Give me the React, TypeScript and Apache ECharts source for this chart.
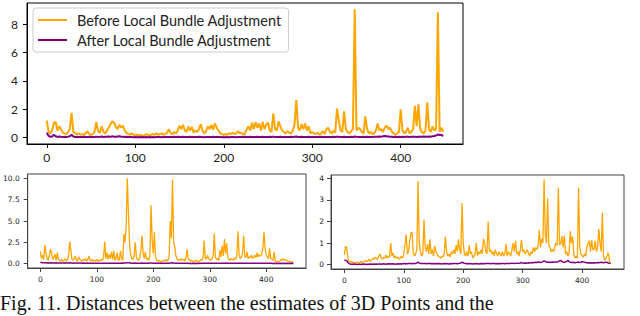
import React, { useEffect, useRef } from "react";
import * as echarts from "echarts";

// x sampling step (frame index)
const X_STEP = 2;

const seriesNames = ["Before Local Bundle Adjustment", "After Local Bundle Adjustment"];
const xTicks = [0, 100, 200, 300, 400];
const topYTicks = [0, 2, 4, 6, 8];
const blYTicks = [0, 2.5, 5, 7.5, 10];
const brYTicks = [0, 1, 2, 3, 4];

const topBefore = [
  1.2, 0.4, 0.3, 0.5, 1.05, 1.1, 0.5, 0.8, 0.6, 0.35,
  0.3, 0.25, 0.4, 0.6, 1.75, 0.4, 0.3, 0.25, 0.3, 0.2,
  0.25, 0.2, 0.3, 0.45, 0.25, 0.2, 0.25, 0.4, 1.1, 0.45,
  0.35, 0.8, 0.4, 0.3, 0.5, 0.7, 0.95, 1.15, 1.05, 0.75,
  0.6, 0.9, 0.7, 0.85, 0.5, 0.35, 0.25, 0.2, 0.3, 0.2,
  0.15, 0.2, 0.15, 0.2, 0.12, 0.15, 0.25, 0.2, 0.15, 0.2,
  0.25, 0.2, 0.3, 0.2, 0.25, 0.3, 0.2, 0.25, 0.35, 0.6,
  0.3, 0.25, 0.4, 0.3, 0.5, 0.85, 0.6, 0.9, 0.5, 0.4,
  0.8, 0.5, 0.75, 0.35, 0.5, 0.4, 0.6, 0.95, 0.5, 0.3,
  0.45, 0.8, 0.6, 0.9, 0.55, 1.0, 0.7, 0.5, 0.3, 0.25,
  0.2, 0.25, 0.2, 0.3, 0.25, 0.35, 0.25, 0.3, 0.45, 0.3,
  0.35, 0.2, 0.3, 0.6, 0.8, 0.5, 1.05, 0.6, 1.1, 0.7,
  1.0, 0.5, 1.1, 0.6, 0.9, 1.05, 0.5, 0.4, 1.7, 0.6,
  0.5, 1.15, 0.8, 0.5, 0.4, 0.3, 0.45, 0.35, 0.3, 0.5,
  0.9, 2.65, 0.7, 0.5, 0.95, 0.6, 1.0, 0.5, 0.8, 0.3,
  0.4, 0.3, 0.25, 0.35, 0.2, 0.3, 0.45, 0.25, 0.6, 0.7,
  0.4, 0.3, 0.5, 0.35, 2.05, 1.2, 0.5, 0.4, 1.85, 0.6,
  0.4, 0.3, 0.45, 0.6, 9.05, 0.5, 0.7, 0.6, 0.4, 0.3,
  1.5, 0.6, 0.3, 0.4, 0.25, 0.3, 0.5, 1.0, 0.5, 0.6,
  0.4, 0.7, 0.85, 0.6, 0.7, 0.4, 0.3, 0.2, 0.3, 0.4,
  2.0, 0.5, 0.3, 0.4, 0.7, 0.3, 0.4, 0.6, 2.25, 0.8,
  2.35, 0.6, 0.4, 0.3, 0.5, 2.5, 0.6, 0.4, 0.8, 0.5,
  0.6, 8.85, 0.4, 0.7, 0.4,
];

const topAfter = [
  0.35, 0.12, 0.06, 0.08, 0.2, 0.1, 0.05, 0.08, 0.06, 0.05,
  0.06, 0.05, 0.07, 0.1, 0.2, 0.08, 0.05, 0.06, 0.05, 0.04,
  0.05, 0.06, 0.04, 0.05, 0.06, 0.05, 0.04, 0.05, 0.07, 0.05,
  0.06, 0.08, 0.05, 0.06, 0.07, 0.08, 0.06, 0.09, 0.07, 0.06,
  0.08, 0.1, 0.07, 0.06, 0.05, 0.06, 0.04, 0.05, 0.04, 0.03,
  0.04, 0.03, 0.04, 0.03, 0.04, 0.03, 0.04, 0.03, 0.04, 0.03,
  0.04, 0.03, 0.04, 0.05, 0.04, 0.03, 0.04, 0.05, 0.04, 0.05,
  0.04, 0.05, 0.06, 0.05, 0.06, 0.05, 0.04, 0.06, 0.05, 0.04,
  0.05, 0.06, 0.05, 0.04, 0.05, 0.04, 0.06, 0.05, 0.04, 0.03,
  0.04, 0.05, 0.04, 0.05, 0.06, 0.05, 0.04, 0.05, 0.04, 0.03,
  0.04, 0.03, 0.04, 0.03, 0.04, 0.05, 0.04, 0.03, 0.04, 0.05,
  0.04, 0.05, 0.06, 0.05, 0.04, 0.06, 0.05, 0.04, 0.05, 0.06,
  0.05, 0.04, 0.06, 0.05, 0.04, 0.05, 0.06, 0.05, 0.07, 0.05,
  0.04, 0.05, 0.06, 0.05, 0.04, 0.05, 0.04, 0.05, 0.06, 0.05,
  0.06, 0.08, 0.05, 0.04, 0.06, 0.05, 0.04, 0.05, 0.06, 0.04,
  0.05, 0.04, 0.05, 0.04, 0.05, 0.06, 0.04, 0.05, 0.04, 0.05,
  0.04, 0.05, 0.06, 0.05, 0.07, 0.06, 0.05, 0.04, 0.06, 0.05,
  0.04, 0.05, 0.06, 0.05, 0.08, 0.06, 0.05, 0.04, 0.05, 0.06,
  0.05, 0.06, 0.05, 0.04, 0.05, 0.06, 0.07, 0.06, 0.08, 0.07,
  0.1, 0.12, 0.09, 0.08, 0.07, 0.06, 0.05, 0.06, 0.05, 0.06,
  0.05, 0.06, 0.05, 0.07, 0.06, 0.05, 0.06, 0.07, 0.06, 0.05,
  0.06, 0.07, 0.06, 0.08, 0.07, 0.06, 0.08, 0.07, 0.1, 0.12,
  0.15, 0.22, 0.18, 0.2, 0.1,
];

const blBefore = [
  1.45, 0.6, 1.0, 0.5, 2.2, 1.2, 0.6, 0.4, 1.0, 1.7,
  1.2, 0.5, 0.8, 1.1, 0.4, 1.3, 0.5, 0.4, 0.3, 0.5,
  0.3, 0.4, 0.6, 0.3, 0.5, 0.9, 2.6, 1.6, 0.5, 0.4,
  0.6, 0.9, 0.4, 0.3, 0.8, 0.5, 0.4, 0.3, 0.5, 0.4,
  0.6, 0.3, 0.5, 0.9, 0.4, 0.3, 0.5, 0.3, 0.4, 0.3,
  0.5, 0.3, 0.4, 0.3, 0.5, 0.4, 0.8, 2.6, 0.6, 1.3,
  0.5, 1.1, 0.6, 1.4, 0.5, 1.5, 0.4, 0.6, 1.3, 0.4,
  0.5, 1.5, 0.6, 0.4, 3.5, 2.5, 4.5, 10.0, 5.9, 2.3,
  1.0, 0.6, 0.5, 0.9, 2.5, 0.8, 0.5, 0.4, 0.7, 1.5,
  3.3, 1.2, 0.6, 1.4, 0.5, 0.6, 0.4, 1.0, 6.85, 2.7,
  1.2, 3.7, 0.8, 0.4, 0.3, 0.4, 0.3, 0.2, 0.3, 0.4,
  0.3, 0.5, 0.3, 0.4, 0.8, 5.0, 3.0, 9.85, 2.5, 2.0,
  0.9, 0.6, 0.4, 0.5, 0.4, 0.6, 0.4, 0.5, 0.3, 0.8,
  1.7, 0.5, 0.4, 0.3, 0.4, 0.3, 0.2, 0.3, 0.4, 0.3,
  0.2, 0.3, 0.5, 0.4, 0.6, 2.7, 0.7, 0.5, 1.0, 0.6,
  0.5, 0.4, 0.6, 0.8, 3.5, 0.8, 0.5, 0.6, 0.4, 1.6,
  0.8, 2.1, 0.9, 2.9, 1.2, 2.4, 0.7, 0.5, 0.4, 0.6,
  0.5, 0.4, 0.7, 0.5, 1.0, 3.8, 1.0, 0.6, 0.8, 1.2,
  3.3, 0.9, 0.7, 1.4, 0.6, 0.8, 0.7, 1.0, 0.6, 0.8,
  1.0, 0.7, 1.3, 0.8, 1.0, 0.9, 1.2, 1.8, 3.7, 1.8,
  1.0, 0.8, 0.6, 1.8, 0.6, 0.5, 0.4, 1.4, 0.3, 0.2,
  0.3, 0.2, 0.3, 0.5, 0.4, 0.6, 0.4, 0.5, 0.4, 0.3,
  0.2, 0.3, 0.2, 0.2, 0.1,
];

const blAfter = [
  0.18, 0.14, 0.12, 0.1, 0.11, 0.1, 0.09, 0.1, 0.09, 0.1,
  0.09, 0.1, 0.08, 0.09, 0.1, 0.09, 0.08, 0.09, 0.08, 0.09,
  0.08, 0.09, 0.1, 0.09, 0.08, 0.09, 0.1, 0.09, 0.08, 0.07,
  0.08, 0.09, 0.08, 0.07, 0.08, 0.09, 0.08, 0.07, 0.08, 0.07,
  0.06, 0.07, 0.08, 0.07, 0.06, 0.07, 0.06, 0.07, 0.06, 0.05,
  0.06, 0.05, 0.06, 0.07, 0.06, 0.05, 0.06, 0.07, 0.06, 0.07,
  0.06, 0.07, 0.06, 0.05, 0.06, 0.07, 0.06, 0.07, 0.06, 0.05,
  0.06, 0.07, 0.08, 0.07, 0.08, 0.09, 0.1, 0.12, 0.1, 0.09,
  0.08, 0.07, 0.06, 0.07, 0.08, 0.07, 0.06, 0.07, 0.06, 0.07,
  0.08, 0.07, 0.06, 0.07, 0.06, 0.07, 0.06, 0.08, 0.1, 0.08,
  0.07, 0.06, 0.07, 0.06, 0.05, 0.06, 0.05, 0.06, 0.05, 0.06,
  0.05, 0.06, 0.05, 0.06, 0.07, 0.08, 0.09, 0.11, 0.09, 0.07,
  0.06, 0.05, 0.06, 0.05, 0.06, 0.05, 0.06, 0.05, 0.06, 0.05,
  0.06, 0.05, 0.04, 0.05, 0.04, 0.05, 0.04, 0.05, 0.04, 0.05,
  0.04, 0.05, 0.06, 0.05, 0.06, 0.07, 0.06, 0.05, 0.06, 0.05,
  0.06, 0.05, 0.06, 0.07, 0.06, 0.07, 0.06, 0.05, 0.06, 0.05,
  0.06, 0.07, 0.06, 0.07, 0.08, 0.07, 0.06, 0.05, 0.06, 0.05,
  0.06, 0.05, 0.06, 0.05, 0.06, 0.07, 0.06, 0.05, 0.06, 0.07,
  0.06, 0.05, 0.06, 0.05, 0.06, 0.05, 0.06, 0.05, 0.06, 0.05,
  0.06, 0.05, 0.06, 0.07, 0.06, 0.05, 0.06, 0.07, 0.06, 0.07,
  0.06, 0.05, 0.06, 0.05, 0.06, 0.05, 0.04, 0.05, 0.04, 0.05,
  0.04, 0.05, 0.04, 0.05, 0.04, 0.05, 0.04, 0.05, 0.04, 0.05,
  0.04, 0.05, 0.04, 0.05, 0.04,
];

const brBefore = [
  0.45, 0.85, 0.8, 0.3, 0.15, 0.1, 0.15, 0.1, 0.12, 0.08,
  0.1, 0.12, 0.08, 0.1, 0.15, 0.1, 0.12, 0.15, 0.2, 0.15,
  0.18, 0.25, 0.15, 0.2, 0.3, 0.25, 0.35, 0.3, 0.25, 0.4,
  0.5, 0.3, 0.25, 0.35, 0.3, 0.45, 0.3, 0.4, 0.35, 1.0,
  0.4, 0.55, 0.3, 0.4, 0.3, 0.35, 0.25, 0.3, 0.4, 0.3,
  0.5, 0.9, 1.4, 0.5, 0.6, 1.1, 1.45, 1.5, 0.5, 0.4,
  0.5, 0.7, 3.87, 1.0, 0.6, 0.4, 0.5, 2.08, 0.8, 0.6,
  0.95, 0.5, 1.17, 0.5, 0.7, 0.4, 0.87, 0.6, 0.5, 0.4,
  0.35, 0.3, 0.4, 0.35, 0.5, 1.3, 0.6, 0.4, 0.5, 0.35,
  0.6, 0.5, 0.7, 0.5, 0.9, 0.6, 1.17, 0.7, 0.5, 2.85,
  1.0, 0.5, 0.4, 0.6, 0.4, 0.9, 0.5, 0.6, 0.3, 0.4,
  0.5, 1.0, 0.4, 0.6, 0.5, 0.7, 0.5, 1.2, 1.0, 0.6,
  0.5, 2.0, 0.6, 0.7, 0.5, 0.6, 0.4, 0.7, 0.5, 0.4,
  0.6, 0.5, 0.4, 0.6, 0.4, 0.5, 0.95, 0.4, 0.6, 0.5,
  0.4, 0.7, 1.0, 0.6, 1.1, 0.5, 0.6, 0.4, 0.7, 1.15,
  0.6, 0.7, 0.5, 0.6, 0.7, 0.5, 0.4, 0.6, 0.5, 0.8,
  0.6, 0.8, 0.7, 0.9, 1.6, 0.8, 1.2, 1.0, 3.95, 1.4,
  1.0, 3.07, 0.9, 0.8, 0.6, 0.7, 0.6, 0.8, 1.0, 0.9,
  3.56, 0.9, 1.0, 1.32, 0.8, 1.35, 0.5, 0.6, 0.4, 0.5,
  1.55, 1.0, 1.3, 0.5, 0.3, 0.4, 0.3, 3.56, 0.8, 0.5,
  0.4, 0.35, 0.5, 0.4, 0.8, 1.0, 1.1, 0.6, 1.15, 0.7,
  0.7, 1.1, 0.6, 0.8, 1.65, 1.0, 0.6, 2.4, 0.4, 0.2,
  0.3, 0.4, 0.55, 0.15, 0.1,
];

const brAfter = [
  0.22, 0.2, 0.18, 0.1, 0.05, 0.03, 0.02, 0.02, 0.03, 0.02,
  0.02, 0.01, 0.02, 0.02, 0.01, 0.02, 0.03, 0.02, 0.02, 0.01,
  0.02, 0.02, 0.03, 0.02, 0.02, 0.03, 0.02, 0.03, 0.02, 0.03,
  0.03, 0.02, 0.03, 0.04, 0.03, 0.02, 0.03, 0.04, 0.03, 0.04,
  0.03, 0.04, 0.03, 0.02, 0.03, 0.04, 0.03, 0.04, 0.03, 0.04,
  0.05, 0.04, 0.05, 0.04, 0.05, 0.06, 0.05, 0.04, 0.05, 0.06,
  0.05, 0.08, 0.12, 0.07, 0.05, 0.06, 0.05, 0.06, 0.05, 0.04,
  0.05, 0.06, 0.05, 0.04, 0.05, 0.04, 0.05, 0.04, 0.05, 0.04,
  0.05, 0.04, 0.03, 0.04, 0.05, 0.04, 0.05, 0.04, 0.03, 0.04,
  0.05, 0.04, 0.05, 0.06, 0.05, 0.04, 0.05, 0.06, 0.08, 0.12,
  0.09, 0.06, 0.05, 0.04, 0.05, 0.04, 0.05, 0.04, 0.03, 0.04,
  0.04, 0.05, 0.04, 0.03, 0.04, 0.05, 0.04, 0.05, 0.04, 0.05,
  0.05, 0.06, 0.05, 0.04, 0.05, 0.06, 0.05, 0.04, 0.05, 0.04,
  0.05, 0.04, 0.05, 0.06, 0.05, 0.04, 0.05, 0.06, 0.05, 0.06,
  0.06, 0.07, 0.06, 0.05, 0.06, 0.07, 0.06, 0.07, 0.08, 0.1,
  0.08, 0.07, 0.08, 0.07, 0.08, 0.09, 0.08, 0.09, 0.1, 0.09,
  0.1, 0.11, 0.1, 0.12, 0.11, 0.1, 0.12, 0.14, 0.18, 0.15,
  0.12, 0.11, 0.12, 0.1, 0.11, 0.12, 0.11, 0.12, 0.13, 0.12,
  0.14, 0.18, 0.2, 0.14, 0.12, 0.11, 0.13, 0.15, 0.2, 0.14,
  0.12, 0.1, 0.11, 0.1, 0.09, 0.1, 0.11, 0.12, 0.1, 0.11,
  0.15, 0.13, 0.11, 0.1, 0.09, 0.08, 0.09, 0.08, 0.09, 0.08,
  0.09, 0.08, 0.09, 0.1, 0.09, 0.1, 0.11, 0.1, 0.09, 0.1,
  0.12, 0.1, 0.08, 0.06, 0.05,
];

const captionText = "Fig. 11. Distances between the estimates of 3D Points and the";

const ORANGE = "#FFA500";
const PURPLE = "#800080";

const toPairs = (vals: number[]) => vals.map((v, i) => [i * X_STEP, v]);

function xAxisCfg(gridIndex: number, frame: string, font: any, margin: number) {
  return {
    type: "value",
    gridIndex,
    min: -22.4,
    max: 470.4,
    axisLine: { show: true, onZero: false, lineStyle: { color: frame, width: 1 } },
    axisTick: { show: true, inside: false, length: 4, customValues: xTicks, lineStyle: { color: frame } },
    axisLabel: { customValues: xTicks, margin, ...font },
    splitLine: { show: false },
  };
}

function yAxisCfg(gridIndex: number, min: number, max: number, ticks: number[], frame: string, font: any, margin: number, fmt?: (v: number) => string) {
  return {
    type: "value",
    gridIndex,
    min,
    max,
    axisLine: { show: true, onZero: false, lineStyle: { color: frame, width: 1 } },
    axisTick: { show: true, inside: false, length: 4, customValues: ticks, lineStyle: { color: frame } },
    axisLabel: { customValues: ticks, margin, formatter: fmt, ...font },
    splitLine: { show: false },
  };
}

export default function App() {
  const ref = useRef<HTMLDivElement>(null);
  useEffect(() => {
    if (!ref.current) return;
    const chart = echarts.init(ref.current, undefined, { renderer: "svg" });
    const topFont = { fontFamily: "Lato", fontSize: 12, color: "#222" };
    const smallFont = { fontFamily: "DejaVu Sans", fontSize: 7.5, color: "#222" };
    const option: any = {
      animation: false,
      backgroundColor: "#fff",
      grid: [
        { left: 27, top: 3, width: 436, height: 141, show: true, borderColor: "#000", borderWidth: 1, containLabel: false },
        { left: 27, top: 174, width: 279, height: 94, show: true, borderColor: "#444", borderWidth: 1, containLabel: false },
        { left: 331, top: 175, width: 293, height: 94, show: true, borderColor: "#444", borderWidth: 1, containLabel: false },
      ],
      xAxis: [
        xAxisCfg(0, "#000", topFont, 7),
        xAxisCfg(1, "#444", smallFont, 7),
        xAxisCfg(2, "#444", smallFont, 7),
      ],
      yAxis: [
        yAxisCfg(0, -0.45, 9.5, topYTicks, "#000", topFont, 9),
        yAxisCfg(1, -0.5, 10.5, blYTicks, "#444", smallFont, 8, (v: number) => v.toFixed(1)),
        yAxisCfg(2, -0.2, 4.15, brYTicks, "#444", smallFont, 7),
      ],
      legend: {
        data: seriesNames,
        orient: "vertical",
        left: 33,
        top: 8,
        icon: "rect",
        itemWidth: 29,
        itemHeight: 2,
        itemGap: 4,
        padding: [4, 7, 4, 5],
        borderColor: "#ccc",
        borderWidth: 1,
        borderRadius: 3,
        backgroundColor: "#fff",
        textStyle: { fontFamily: "Lato", fontSize: 14.5, color: "#222", padding: [0, 0, 0, 5], lineHeight: 16 },
      },
      graphic: [
        {
          type: "text",
          left: 0,
          top: 293,
          style: { text: captionText, font: '20px "Liberation Serif"', fill: "#111" },
        },
      ],
      series: [
        { name: seriesNames[0], type: "line", xAxisIndex: 0, yAxisIndex: 0, data: toPairs(topBefore), showSymbol: false, symbol: "none", lineStyle: { color: ORANGE, width: 2 }, itemStyle: { color: ORANGE } },
        { name: seriesNames[1], type: "line", xAxisIndex: 0, yAxisIndex: 0, data: toPairs(topAfter), showSymbol: false, symbol: "none", lineStyle: { color: PURPLE, width: 2 }, itemStyle: { color: PURPLE } },
        { name: "bl-before", type: "line", xAxisIndex: 1, yAxisIndex: 1, data: toPairs(blBefore), showSymbol: false, symbol: "none", lineStyle: { color: ORANGE, width: 1.3 } },
        { name: "bl-after", type: "line", xAxisIndex: 1, yAxisIndex: 1, data: toPairs(blAfter), showSymbol: false, symbol: "none", lineStyle: { color: PURPLE, width: 1.5 } },
        { name: "br-before", type: "line", xAxisIndex: 2, yAxisIndex: 2, data: toPairs(brBefore), showSymbol: false, symbol: "none", lineStyle: { color: ORANGE, width: 1.3 } },
        { name: "br-after", type: "line", xAxisIndex: 2, yAxisIndex: 2, data: toPairs(brAfter), showSymbol: false, symbol: "none", lineStyle: { color: PURPLE, width: 1.5 } },
      ],
    };
    chart.setOption(option);
    return () => chart.dispose();
  }, []);
  return <div ref={ref} style={{ position: "absolute", left: 0, top: 0, width: 640, height: 316 }} />;
}
